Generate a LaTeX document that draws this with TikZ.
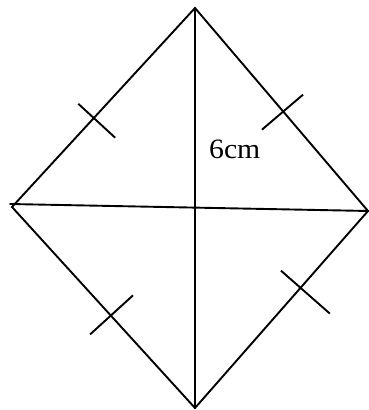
\documentclass[tikz,border=0pt]{standalone}
\usepackage{fontspec}
\setmainfont{Liberation Serif}
\usetikzlibrary{calc}
\tikzset{
	sideA/.style={
		draw, line width=1.9pt, line cap=round, line join=miter,
	},
	tickA/.style={
		sideA, line cap=butt,
	},
	labelA/.style={
		inner sep=0pt, anchor=base west, xscale=1.06,
		font={\fontsize{28}{32}\selectfont}
	},
}

\begin{document}
\begin{tikzpicture}[x=1pt, y=-1pt]
\useasboundingbox (0,0) rectangle (369,410);
% vertices of the rhombus
\coordinate (top) at (195,8);
\coordinate (left) at (12,207);
\coordinate (bottom) at (195,408);
\coordinate (right) at (368,211);
% ends of the long diagonal
\coordinate (west) at (10,204);
\coordinate (east) at (369,211);
\draw[sideA] (top) -- (left) -- (bottom) -- (right) -- cycle;
\draw[sideA] (top) -- (bottom);
\draw[sideA] (west) -- (east);
% equal-side marks
\foreach \a/\b/\t/\p/\q in {top/left/0.553/29/21, top/right/0.51/26/28,
	left/bottom/0.54/30/28, bottom/right/0.61/26/39}
{
	\coordinate (m) at ($(\a)!\t!(\b)$);
	\draw[tickA] ($(m)!\p pt!90:(\b)$) -- ($(m)!\q pt!-90:(\b)$);
}
\node[labelA] (len) at (209,158.5) {6cm};
\end{tikzpicture}
\end{document}
